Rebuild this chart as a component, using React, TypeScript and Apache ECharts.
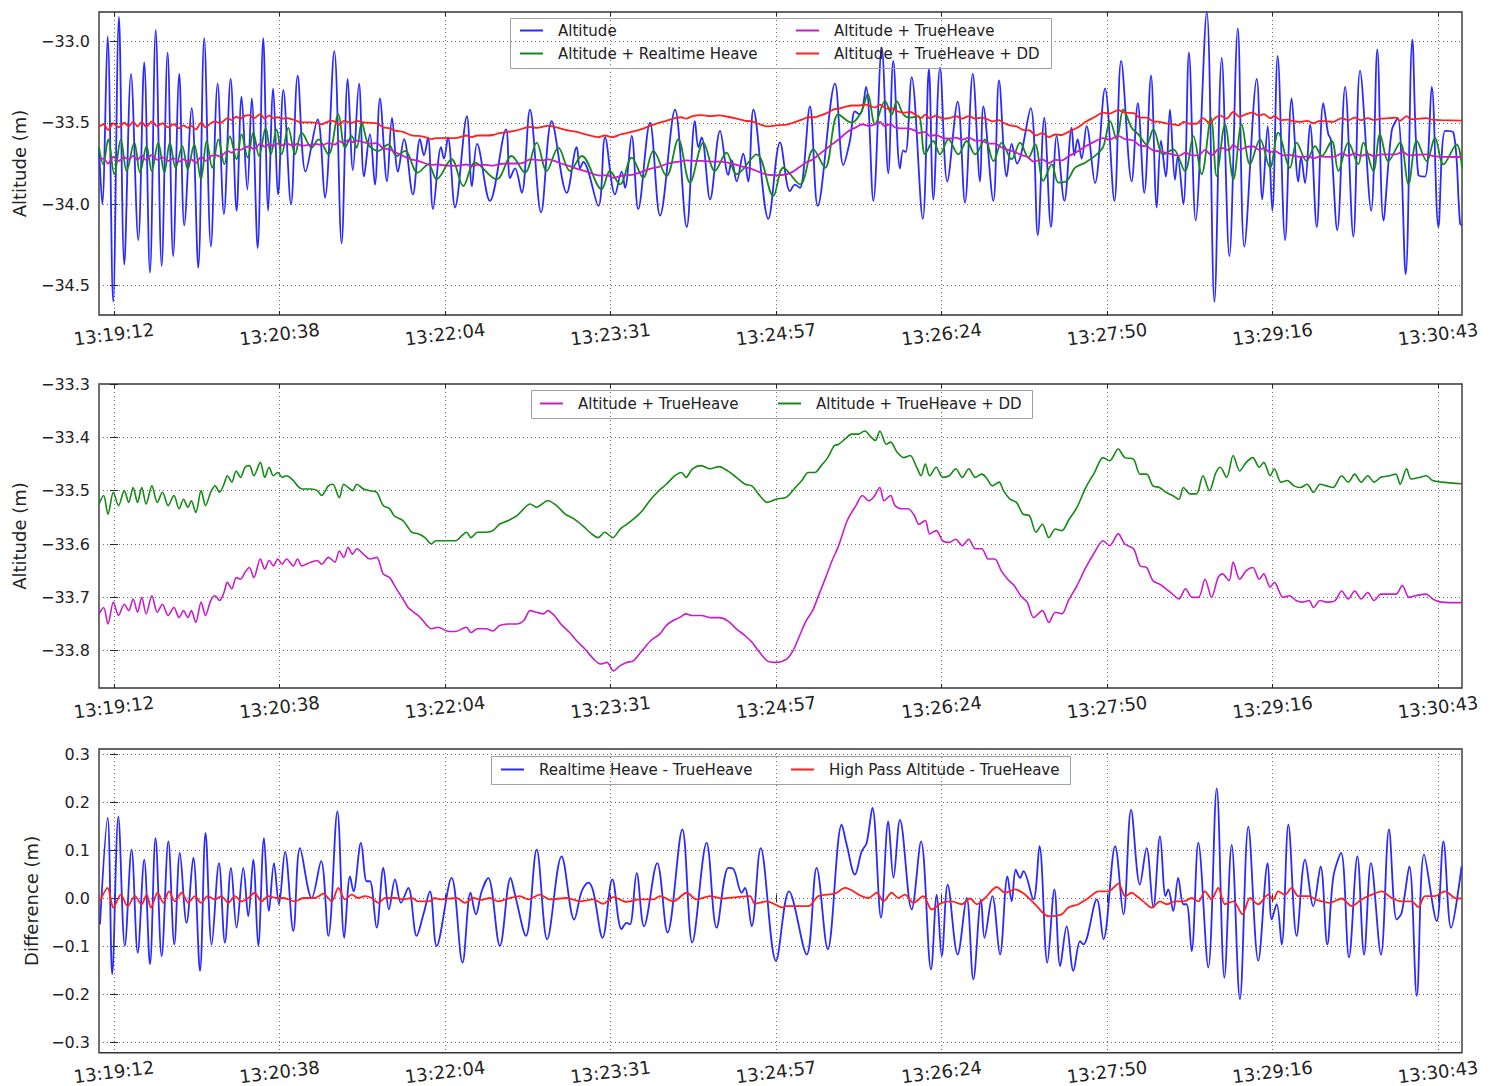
import React, { useEffect, useRef } from 'react';
import * as echarts from 'echarts';

// ---------- axis ticks ----------
const X_TICKS = [0, 86.375, 172.75, 259.125, 345.5, 431.875, 518.25, 604.625, 691];
const X_TICK_LABELS = ['13:19:12', '13:20:38', '13:22:04', '13:23:31', '13:24:57', '13:26:24', '13:27:50', '13:29:16', '13:30:43'];
const X_MIN = -7.8;
const X_MAX = 703.5;

const Y1_TICKS = [-34.5, -34.0, -33.5, -33.0];
const Y1_RANGE = [-34.68, -32.82];
const Y2_TICKS = [-33.8, -33.7, -33.6, -33.5, -33.4, -33.3];
const Y2_RANGE = [-33.87, -33.3];
const Y3_TICKS = [-0.3, -0.2, -0.1, 0.0, 0.1, 0.2, 0.3];
const Y3_RANGE = [-0.322, 0.312];

// ---------- data: [seconds since 13:19:12, value] ----------
const ALTITUDE: [number, number][] = [
  [-7.8,-33.65],[-6.1,-34.0],[-3.3,-32.97],[-0.4,-34.6],[2.6,-32.85],[5.4,-34.37],[8.9,-33.2],[12.7,-34.22],[15.8,-33.13],[18.8,-34.42],
  [21.8,-32.93],[24.9,-34.38],[28.0,-33.07],[30.9,-34.32],[34.1,-33.2],[36.7,-34.13],[40.6,-33.41],[44.0,-34.39],[47.1,-32.98],[50.6,-34.26],
  [54.1,-33.26],[57.4,-34.06],[60.9,-33.23],[64.0,-34.04],[66.6,-33.34],[69.6,-33.91],[71.9,-33.35],[75.0,-34.27],[77.9,-32.98],[80.5,-34.04],
  [83.1,-33.29],[85.7,-33.94],[88.4,-33.3],[92.4,-34.0],[95.9,-33.21],[100.0,-33.8],[106.3,-33.48],[110.1,-33.96],[115.0,-33.06],[118.8,-34.24],
  [122.0,-33.23],[124.7,-33.79],[127.9,-33.26],[130.5,-33.83],[133.6,-33.57],[136.2,-33.88],[138.8,-33.35],[142.5,-33.86],[145.1,-33.47],[148.2,-33.8],
  [151.4,-33.6],[156.0,-33.94],[159.7,-33.6],[161.8,-33.7],[163.9,-33.59],[166.5,-34.03],[170.7,-33.65],[172.2,-33.72],[174.3,-33.59],[178.0,-34.02],
  [184.2,-33.46],[186.8,-33.89],[189.5,-33.63],[196.2,-33.98],[204.6,-33.54],[206.7,-33.84],[209.3,-33.78],[212.8,-33.93],[217.1,-33.42],[222.9,-34.05],
  [228.4,-33.49],[236.3,-33.93],[241.5,-33.65],[243.2,-33.78],[244.9,-33.74],[252.8,-34.01],[256.3,-33.59],[261.5,-33.94],[265.0,-33.8],[266.7,-33.9],
  [270.2,-33.58],[273.6,-34.03],[279.7,-33.5],[285.0,-34.07],[292.8,-33.42],[298.9,-34.14],[303.2,-33.49],[305.0,-33.65],[306.7,-33.59],[311.1,-33.97],
  [316.3,-33.55],[320.6,-33.82],[322.4,-33.73],[325.0,-33.86],[328.4,-33.69],[331.0,-33.86],[333.7,-33.42],[341.5,-34.09],[347.6,-33.62],[352.8,-33.92],
  [355.4,-33.88],[358.0,-33.9],[363.2,-33.4],[367.3,-34.01],[376.3,-33.26],[380.6,-33.76],[384.1,-33.61],[386.7,-33.43],[389.3,-33.45],[392.5,-33.28],
  [396.3,-33.98],[400.7,-33.04],[404.1,-33.81],[406.7,-33.12],[410.2,-33.78],[411.9,-33.67],[413.2,-33.68],[416.3,-33.22],[422.1,-34.09],[425.3,-33.17],
  [427.6,-33.97],[431.1,-33.16],[434.9,-33.86],[440.3,-33.37],[444.1,-33.99],[448.2,-33.2],[452.0,-33.86],[453.7,-33.4],[458.9,-33.98],[461.9,-33.24],
  [465.9,-33.83],[468.5,-33.63],[471.3,-33.75],[478.4,-33.41],[482.1,-34.19],[485.5,-33.47],[489.0,-34.14],[492.0,-33.58],[496.0,-33.98],[499.8,-33.53],
  [501.2,-33.7],[502.9,-33.6],[505.0,-33.72],[507.6,-33.52],[512.0,-33.87],[517.2,-33.29],[522.1,-33.98],[525.6,-33.12],[531.1,-33.86],[534.3,-33.38],
  [537.7,-33.93],[541.2,-33.21],[544.2,-34.02],[546.4,-33.61],[548.9,-33.83],[551.1,-33.42],[553.7,-33.85],[555.1,-33.71],[558.1,-34.0],[561.0,-33.07],
  [564.5,-34.1],[570.3,-32.82],[574.3,-34.6],[578.1,-33.1],[582.1,-34.32],[586.5,-32.92],[589.9,-34.26],[596.4,-33.23],[599.3,-33.97],[602.1,-33.52],
  [604.5,-34.04],[607.3,-33.09],[611.2,-34.22],[614.6,-33.35],[618.1,-33.86],[619.5,-33.71],[621.6,-33.87],[624.2,-33.51],[627.7,-34.14],[631.1,-33.38],
  [633.7,-33.57],[635.0,-33.6],[638.4,-34.16],[642.5,-33.28],[646.8,-34.2],[650.3,-33.18],[656.1,-34.04],[659.3,-33.05],[662.5,-34.1],[666.8,-33.55],
  [670.0,-33.47],[674.1,-34.43],[677.6,-32.99],[680.7,-33.82],[684.2,-33.83],[687.7,-33.28],[691.2,-34.14],[694.7,-33.55],[699.0,-33.56],[702.5,-34.12],
  [703.5,-34.13],
];

const ALT_REALTIME_HEAVE: [number, number][] = [
  [-7.8,-33.653],[-5.6,-33.755],[-3.0,-33.602],[0.2,-33.816],[3.6,-33.602],[6.6,-33.796],[10.6,-33.622],[13.6,-33.806],[17.0,-33.643],[19.7,-33.796],
  [23.1,-33.622],[26.3,-33.806],[29.2,-33.622],[32.2,-33.776],[35.7,-33.643],[38.5,-33.786],[41.9,-33.633],[45.4,-33.847],[48.4,-33.612],[51.3,-33.776],
  [54.5,-33.602],[57.6,-33.755],[60.5,-33.582],[64.0,-33.724],[66.6,-33.571],[69.8,-33.714],[72.7,-33.561],[75.7,-33.704],[79.2,-33.531],[81.9,-33.694],
  [84.9,-33.541],[87.5,-33.694],[91.0,-33.531],[94.5,-33.694],[98.0,-33.561],[103.2,-33.653],[106.7,-33.602],[111.9,-33.694],[117.1,-33.449],[120.6,-33.653],
  [124.1,-33.582],[126.7,-33.653],[129.3,-33.5],[132.8,-33.633],[138.0,-33.673],[143.2,-33.633],[147.5,-33.704],[151.9,-33.673],[158.5,-33.806],[164.1,-33.755],
  [168.4,-33.847],[176.2,-33.724],[182.3,-33.888],[188.4,-33.745],[199.7,-33.847],[207.5,-33.704],[214.5,-33.806],[220.6,-33.622],[225.8,-33.796],[231.9,-33.653],
  [238.0,-33.796],[244.1,-33.704],[254.5,-33.908],[258.8,-33.796],[264.1,-33.878],[270.2,-33.714],[276.2,-33.837],[281.5,-33.673],[288.4,-33.827],[294.5,-33.602],
  [300.6,-33.867],[307.6,-33.622],[313.6,-33.796],[319.7,-33.684],[325.0,-33.816],[335.4,-33.694],[344.1,-33.949],[349.3,-33.776],[358.0,-33.878],[365.0,-33.663],
  [371.1,-33.776],[378.0,-33.449],[385.0,-33.5],[390.2,-33.429],[393.4,-33.322],[397.2,-33.51],[402.4,-33.367],[405.9,-33.449],[408.5,-33.367],[412.0,-33.449],
  [415.5,-33.469],[419.8,-33.459],[423.3,-33.694],[427.6,-33.612],[431.1,-33.694],[435.5,-33.602],[440.7,-33.694],[445.0,-33.612],[449.4,-33.694],[454.6,-33.602],
  [459.0,-33.735],[463.3,-33.622],[468.5,-33.724],[472.9,-33.622],[477.2,-33.714],[480.7,-33.633],[485.0,-33.857],[489.4,-33.755],[492.9,-33.867],[497.2,-33.857],
  [501.6,-33.776],[506.8,-33.745],[512.9,-33.694],[516.4,-33.643],[519.9,-33.49],[523.3,-33.602],[526.8,-33.418],[531.1,-33.531],[534.6,-33.571],[538.9,-33.633],
  [542.4,-33.541],[547.6,-33.694],[552.8,-33.663],[558.9,-33.796],[563.3,-33.582],[567.6,-33.816],[572.5,-33.469],[575.5,-33.827],[579.8,-33.51],[584.2,-33.847],
  [588.5,-33.51],[592.9,-33.755],[598.1,-33.602],[603.3,-33.776],[607.6,-33.561],[613.7,-33.776],[617.2,-33.622],[622.4,-33.735],[626.8,-33.643],[630.3,-33.704],
  [635.5,-33.612],[639.0,-33.796],[644.2,-33.622],[649.4,-33.755],[652.0,-33.622],[657.2,-33.796],[660.7,-33.571],[665.1,-33.735],[671.2,-33.622],[675.5,-33.878],
  [679.9,-33.612],[685.1,-33.735],[689.4,-33.592],[693.8,-33.755],[700.7,-33.633],[703.5,-33.776],
];

const ALT_TRUEHEAVE: [number, number][] = [
  [-7.8,-33.731],[-5.4,-33.719],[-3.1,-33.75],[-0.3,-33.709],[2.4,-33.734],[5.4,-33.713],[7.7,-33.725],[10.0,-33.703],[12.3,-33.728],[14.5,-33.7],
  [16.8,-33.731],[19.8,-33.697],[22.6,-33.728],[25.3,-33.713],[28.3,-33.734],[31.3,-33.719],[34.0,-33.738],[36.3,-33.725],[38.6,-33.738],[40.4,-33.725],
  [42.7,-33.747],[45.5,-33.709],[47.8,-33.734],[50.5,-33.706],[52.8,-33.697],[55.1,-33.706],[57.4,-33.691],[59.2,-33.672],[61.5,-33.684],[63.8,-33.663],
  [66.1,-33.666],[68.4,-33.653],[70.7,-33.644],[73.0,-33.663],[76.4,-33.628],[78.7,-33.647],[81.0,-33.631],[83.2,-33.641],[85.5,-33.628],[87.8,-33.638],
  [90.1,-33.628],[93.6,-33.641],[95.8,-33.628],[98.1,-33.641],[102.7,-33.634],[106.1,-33.631],[108.4,-33.638],[111.9,-33.625],[115.3,-33.634],[117.6,-33.613],
  [119.9,-33.625],[122.2,-33.606],[124.5,-33.619],[126.8,-33.609],[130.2,-33.619],[133.6,-33.628],[137.1,-33.625],[140.5,-33.656],[143.9,-33.663],[147.4,-33.684],
  [150.8,-33.703],[153.5,-33.719],[156.5,-33.728],[159.9,-33.738],[163.4,-33.753],[165.7,-33.759],[169.1,-33.756],[173.7,-33.763],[178.3,-33.764],[181.7,-33.759],
  [184.0,-33.756],[186.3,-33.766],[189.7,-33.759],[194.3,-33.759],[197.7,-33.763],[201.2,-33.753],[205.8,-33.75],[210.3,-33.75],[213.8,-33.744],[217.2,-33.725],
  [220.6,-33.728],[224.1,-33.731],[226.4,-33.725],[229.8,-33.734],[233.2,-33.75],[237.8,-33.766],[241.3,-33.781],[245.8,-33.797],[250.4,-33.816],[253.9,-33.825],
  [257.3,-33.822],[260.7,-33.838],[264.2,-33.828],[267.6,-33.822],[271.0,-33.819],[275.6,-33.8],[280.2,-33.781],[284.8,-33.769],[288.2,-33.753],[291.6,-33.744],
  [295.1,-33.738],[298.5,-33.731],[301.9,-33.734],[306.5,-33.734],[311.1,-33.738],[315.7,-33.738],[320.3,-33.744],[324.8,-33.759],[329.4,-33.772],[332.9,-33.784],
  [336.3,-33.8],[340.9,-33.819],[345.5,-33.822],[351.0,-33.816],[354.4,-33.8],[357.8,-33.772],[361.2,-33.744],[364.6,-33.725],[368.0,-33.694],[371.4,-33.663],
  [374.8,-33.631],[378.2,-33.603],[382.7,-33.556],[387.2,-33.528],[390.6,-33.509],[394.0,-33.519],[396.3,-33.513],[399.7,-33.494],[401.9,-33.519],[405.3,-33.509],
  [407.6,-33.528],[411.0,-33.534],[414.4,-33.534],[417.8,-33.547],[420.0,-33.563],[423.4,-33.556],[425.7,-33.581],[429.1,-33.575],[432.5,-33.594],[435.9,-33.597],
  [439.3,-33.591],[442.7,-33.603],[446.1,-33.591],[449.5,-33.609],[452.9,-33.609],[456.3,-33.628],[459.7,-33.628],[463.0,-33.65],[466.4,-33.666],[469.8,-33.678],
  [473.2,-33.697],[476.6,-33.709],[480.0,-33.738],[484.5,-33.725],[487.9,-33.747],[491.3,-33.728],[494.7,-33.731],[498.1,-33.706],[502.6,-33.678],[507.2,-33.644],
  [511.7,-33.616],[516.2,-33.594],[519.6,-33.603],[524.1,-33.581],[527.5,-33.6],[532.1,-33.609],[535.5,-33.641],[538.9,-33.644],[542.2,-33.669],[545.6,-33.675],
  [549.0,-33.684],[552.4,-33.694],[555.8,-33.703],[559.2,-33.684],[562.6,-33.7],[566.0,-33.7],[569.4,-33.666],[572.8,-33.7],[576.2,-33.663],[578.5,-33.656],
  [581.9,-33.669],[584.1,-33.634],[587.5,-33.666],[590.9,-33.65],[594.3,-33.644],[597.7,-33.666],[600.0,-33.656],[603.4,-33.681],[605.6,-33.672],[610.1,-33.7],
  [613.5,-33.697],[616.9,-33.706],[620.3,-33.709],[623.7,-33.706],[626.0,-33.719],[629.4,-33.706],[632.8,-33.709],[637.3,-33.706],[640.7,-33.688],[644.1,-33.703],
  [647.5,-33.688],[650.9,-33.703],[654.3,-33.691],[657.7,-33.706],[661.1,-33.694],[665.6,-33.694],[669.0,-33.694],[672.4,-33.678],[675.8,-33.7],[679.2,-33.697],
  [684.8,-33.694],[688.2,-33.703],[692.7,-33.709],[703.5,-33.71],
];

const ALT_TRUEHEAVE_DD: [number, number][] = [
  [-7.8,-33.525],[-5.4,-33.509],[-3.1,-33.544],[-0.3,-33.503],[2.4,-33.528],[5.4,-33.5],[7.7,-33.522],[10.0,-33.494],[12.3,-33.522],[14.5,-33.494],
  [16.8,-33.525],[19.8,-33.491],[22.6,-33.522],[25.3,-33.503],[28.3,-33.528],[31.3,-33.509],[34.0,-33.534],[36.3,-33.516],[38.6,-33.531],[40.4,-33.519],
  [42.7,-33.541],[45.5,-33.5],[47.8,-33.528],[50.5,-33.503],[52.8,-33.491],[55.1,-33.503],[57.4,-33.488],[59.2,-33.472],[61.5,-33.484],[63.8,-33.463],
  [66.1,-33.475],[68.4,-33.456],[70.7,-33.453],[73.0,-33.472],[76.4,-33.447],[78.7,-33.475],[81.0,-33.456],[83.2,-33.472],[85.5,-33.466],[87.8,-33.475],
  [90.1,-33.472],[93.6,-33.481],[95.8,-33.491],[98.1,-33.497],[102.7,-33.497],[106.1,-33.5],[108.4,-33.509],[111.9,-33.491],[114.2,-33.488],[117.6,-33.513],
  [119.9,-33.488],[122.2,-33.494],[124.5,-33.5],[126.8,-33.488],[130.2,-33.497],[133.6,-33.5],[137.1,-33.503],[140.5,-33.528],[143.9,-33.534],[146.2,-33.547],
  [150.8,-33.556],[153.5,-33.569],[155.4,-33.578],[158.8,-33.581],[162.3,-33.588],[165.7,-33.6],[168.0,-33.594],[173.7,-33.594],[178.3,-33.594],[181.7,-33.584],
  [184.0,-33.578],[186.3,-33.588],[189.7,-33.578],[194.3,-33.578],[197.7,-33.575],[201.2,-33.563],[205.8,-33.556],[210.3,-33.547],[213.8,-33.534],[217.2,-33.525],
  [220.6,-33.531],[226.4,-33.519],[231.0,-33.528],[235.5,-33.544],[240.1,-33.553],[244.7,-33.566],[249.3,-33.581],[252.7,-33.588],[256.1,-33.578],[260.3,-33.588],
  [264.2,-33.572],[267.6,-33.563],[272.2,-33.55],[275.6,-33.538],[280.2,-33.516],[283.6,-33.503],[288.2,-33.488],[292.8,-33.472],[296.2,-33.466],[298.5,-33.475],
  [301.9,-33.459],[306.5,-33.453],[311.1,-33.459],[315.7,-33.455],[320.3,-33.463],[324.8,-33.475],[329.4,-33.488],[332.9,-33.491],[336.3,-33.506],[340.9,-33.522],
  [345.5,-33.516],[351.0,-33.512],[355.6,-33.494],[359.0,-33.481],[362.3,-33.466],[365.7,-33.466],[369.1,-33.453],[372.5,-33.438],[375.9,-33.416],[378.2,-33.413],
  [381.6,-33.403],[385.0,-33.394],[388.4,-33.394],[391.8,-33.388],[395.2,-33.4],[397.4,-33.406],[399.7,-33.388],[403.1,-33.413],[405.3,-33.409],[408.7,-33.428],
  [412.1,-33.438],[415.5,-33.434],[418.9,-33.456],[421.2,-33.472],[423.4,-33.45],[425.7,-33.472],[429.1,-33.456],[432.5,-33.475],[435.9,-33.472],[439.3,-33.459],
  [442.7,-33.475],[446.1,-33.459],[449.5,-33.475],[452.9,-33.469],[455.1,-33.475],[458.5,-33.491],[461.9,-33.484],[464.2,-33.5],[467.6,-33.516],[471.0,-33.522],
  [474.4,-33.544],[477.8,-33.547],[481.2,-33.578],[484.5,-33.563],[487.9,-33.588],[491.3,-33.572],[494.7,-33.575],[498.1,-33.556],[502.6,-33.531],[507.2,-33.494],
  [511.7,-33.466],[516.2,-33.438],[519.6,-33.444],[524.1,-33.422],[527.5,-33.438],[532.1,-33.441],[535.5,-33.469],[538.9,-33.469],[542.2,-33.491],[545.6,-33.494],
  [549.0,-33.503],[552.4,-33.509],[555.8,-33.516],[558.1,-33.494],[561.5,-33.506],[564.9,-33.506],[568.3,-33.472],[571.7,-33.5],[575.1,-33.466],[577.3,-33.456],
  [580.7,-33.475],[584.1,-33.434],[587.5,-33.463],[590.9,-33.447],[594.3,-33.438],[597.7,-33.456],[600.0,-33.447],[603.4,-33.472],[605.6,-33.459],[609.0,-33.484],
  [612.4,-33.481],[615.8,-33.491],[619.2,-33.494],[622.6,-33.488],[626.0,-33.503],[629.4,-33.488],[632.8,-33.491],[636.2,-33.494],[640.7,-33.472],[644.1,-33.484],
  [647.5,-33.469],[650.9,-33.484],[654.3,-33.472],[657.7,-33.484],[661.1,-33.475],[665.6,-33.472],[669.0,-33.469],[671.2,-33.488],[674.6,-33.459],[676.9,-33.478],
  [681.4,-33.475],[684.8,-33.472],[688.2,-33.481],[692.7,-33.484],[703.5,-33.487],
];

const REALTIME_MINUS_TRUE: [number, number][] = [
  [-7.3,-0.054],[-3.3,0.168],[-0.9,-0.158],[2.3,0.171],[5.7,-0.099],[9.2,0.102],[12.4,-0.113],[15.8,0.081],[18.8,-0.137],[21.7,0.126],
  [24.9,-0.12],[28.4,0.119],[31.5,-0.096],[34.4,0.095],[37.9,-0.051],[41.4,0.085],[44.9,-0.151],[47.8,0.137],[51.0,-0.096],[54.8,0.074],
  [57.9,-0.092],[61.1,0.064],[64.0,-0.061],[67.5,0.064],[70.1,-0.037],[72.7,0.081],[75.3,-0.099],[78.3,0.126],[80.9,-0.026],[83.5,0.074],
  [86.1,-0.012],[89.3,0.098],[93.6,-0.068],[97.1,0.105],[103.2,0.001],[108.1,0.078],[111.9,-0.078],[116.6,0.182],[120.2,-0.082],[123.2,0.046],
  [125.0,0.015],[128.9,0.116],[131.9,0.036],[133.6,0.036],[137.1,-0.061],[140.6,0.064],[143.5,-0.023],[146.7,0.04],[149.8,-0.009],[153.6,0.022],
  [158.0,-0.078],[161.5,-0.033],[164.9,0.015],[168.4,-0.099],[176.2,0.043],[181.9,-0.134],[186.1,0.012],[188.9,-0.033],[191.9,0.015],[195.3,0.043],
  [201.4,-0.099],[207.0,0.043],[209.3,0.008],[215.0,-0.078],[220.6,0.102],[226.1,-0.085],[233.6,0.088],[240.2,-0.044],[244.1,0.015],[247.5,0.033],
  [250.1,0.015],[255.0,-0.082],[260.1,0.04],[264.9,-0.064],[267.5,-0.051],[269.3,-0.054],[272.8,0.053],[276.6,-0.058],[283.5,0.074],[288.9,-0.071],
  [296.6,0.144],[301.8,-0.092],[309.3,0.116],[314.5,-0.061],[320.6,0.064],[323.2,0.062],[327.6,0.012],[329.3,0.022],[332.8,-0.058],[337.5,0.105],
  [345.5,-0.13],[352.3,0.015],[361.5,-0.117],[366.7,0.064],[372.5,-0.106],[379.8,0.154],[382.4,0.112],[386.7,0.05],[390.2,0.098],[392.8,0.116],
  [395.8,0.189],[400.3,-0.04],[404.1,0.161],[406.8,0.043],[410.2,0.164],[416.3,-0.023],[421.2,0.119],[426.4,-0.148],[429.4,0.008],[432.0,-0.12],
  [435.1,0.029],[440.3,-0.117],[445.0,0.001],[448.5,-0.169],[452.5,-0.002],[454.3,-0.082],[458.4,0.005],[462.4,-0.117],[466.3,0.046],[468.5,-0.006],
  [470.6,0.06],[472.9,0.043],[474.6,0.057],[479.8,-0.002],[483.0,0.109],[487.1,-0.134],[490.8,0.019],[493.8,-0.141],[497.2,-0.058],[500.7,-0.151],
  [504.2,-0.089],[505.9,-0.096],[512.9,-0.002],[516.4,-0.085],[522.5,0.109],[526.8,-0.033],[530.8,0.185],[535.4,0.029],[538.9,0.105],[542.4,-0.019],
  [545.9,0.13],[548.8,0.005],[550.2,0.019],[552.8,-0.026],[555.4,0.043],[558.1,-0.012],[559.8,-0.012],[562.4,-0.11],[565.9,0.116],[571.1,-0.144],
  [575.5,0.23],[579.5,-0.165],[583.3,0.112],[587.6,-0.21],[592.0,0.15],[597.2,-0.13],[602.1,0.074],[604.2,-0.044],[606.8,-0.012],[609.4,-0.096],
  [612.9,0.154],[617.2,-0.078],[621.6,0.081],[625.9,-0.016],[629.7,0.067],[633.2,-0.096],[636.4,0.046],[640.4,0.095],[644.5,-0.123],[648.9,0.088],
  [652.4,-0.117],[656.0,0.074],[661.2,-0.117],[665.4,0.144],[669.4,-0.044],[672.0,-0.03],[676.0,0.067],[679.9,-0.203],[683.7,0.092],[690.3,-0.047],
  [693.8,0.119],[697.8,-0.061],[703.3,0.067],
];

const HIGHPASS_MINUS_TRUE: [number, number][] = [
  [-7.3,-0.006],[-3.3,0.022],[-0.3,-0.019],[3.6,0.008],[7.1,-0.016],[11.0,0.005],[14.4,-0.012],[17.1,0.008],[19.3,-0.019],[22.8,0.012],
  [25.8,-0.009],[28.7,0.015],[31.8,-0.006],[35.3,0.012],[38.8,-0.009],[42.3,0.005],[45.4,-0.009],[48.9,0.005],[52.7,-0.002],[55.9,0.005],
  [59.7,-0.009],[63.2,0.005],[66.6,-0.006],[70.1,0.001],[73.3,0.012],[77.1,-0.006],[80.6,0.005],[84.9,0.001],[88.4,0.001],[94.5,-0.006],
  [98.8,0.001],[104.9,0.001],[109.3,0.01],[113.6,-0.006],[117.1,0.022],[120.6,-0.002],[124.1,0.008],[127.5,0.001],[131.0,0.005],[134.5,0.001],
  [138.0,-0.009],[141.5,0.001],[146.7,0.001],[151.0,-0.002],[155.4,0.001],[158.9,-0.006],[164.1,-0.006],[167.6,0.001],[170.1,-0.002],[178.8,0.001],
  [183.2,-0.009],[187.5,0.001],[191.9,-0.003],[196.2,0.001],[200.5,-0.006],[206.6,0.001],[211.9,0.005],[216.2,-0.002],[222.3,0.008],[227.5,-0.002],
  [236.2,0.001],[243.2,-0.006],[250.1,-0.002],[255.4,-0.011],[260.6,0.003],[267.5,-0.007],[274.5,-0.002],[281.5,-0.002],[284.9,0.005],[291.9,-0.006],
  [298.9,0.012],[304.1,-0.002],[311.0,0.005],[318.0,0.0],[325.0,0.003],[331.9,0.005],[334.5,-0.011],[340.6,-0.006],[349.3,-0.019],[350.2,-0.016],
  [362.4,-0.016],[367.6,0.005],[376.3,0.01],[381.5,0.022],[390.2,0.005],[393.7,0.001],[398.1,0.012],[401.5,-0.006],[405.9,0.012],[409.4,0.001],
  [412.8,0.008],[417.2,-0.009],[422.4,0.005],[426.8,-0.023],[432.0,-0.009],[437.2,-0.006],[442.4,-0.012],[446.8,0.0],[450.3,-0.012],[454.6,0.001],
  [460.7,0.024],[465.0,0.012],[470.3,0.019],[475.5,0.008],[480.7,-0.012],[487.7,-0.037],[494.6,-0.033],[498.1,-0.019],[503.3,-0.012],[508.5,0.001],
  [513.8,0.015],[519.0,0.015],[524.2,0.031],[527.7,0.005],[531.2,0.012],[532.8,0.008],[537.2,-0.006],[541.5,-0.019],[545.9,-0.006],[549.4,-0.012],
  [553.7,-0.006],[558.1,-0.006],[562.4,0.001],[565.9,-0.006],[569.4,0.015],[572.8,-0.002],[576.3,0.022],[579.8,-0.012],[584.2,-0.006],[588.9,-0.033],
  [592.9,0.001],[597.2,-0.012],[602.4,0.008],[605.0,-0.002],[607.6,0.015],[611.1,0.008],[614.6,0.022],[618.1,0.005],[623.3,0.005],[628.5,-0.004],
  [634.6,-0.009],[640.7,0.0],[645.9,-0.016],[651.1,-0.002],[656.4,0.008],[661.6,0.015],[666.8,0.001],[672.0,-0.006],[677.2,-0.006],[680.7,-0.018],
  [684.2,0.005],[689.4,0.005],[694.6,0.015],[699.9,0.001],[703.3,0.0],
];

// ---------- styling ----------
const FONT = "'DejaVu Sans', 'Liberation Sans', sans-serif";
const TEXT = '#222';
const C_BLUE = '#2a2aff';
const C_GREEN = '#138a13';
const C_MAGENTA = '#c81ec8';
const C_RED = '#ff2020';

const GRIDS = [
  { left: 99, top: 12, width: 1363, height: 303 },
  { left: 99, top: 384, width: 1363, height: 304 },
  { left: 99, top: 749, width: 1363, height: 305 },
];

function fmtTime(v: number): string {
  let best = -1;
  let bd = 1e9;
  X_TICKS.forEach((t, i) => {
    const d = Math.abs(t - v);
    if (d < bd) { bd = d; best = i; }
  });
  return bd < 0.5 ? X_TICK_LABELS[best] : '';
}

function fmtNum(v: number): string {
  const s = Math.abs(v).toFixed(1);
  return v < -1e-9 ? '\u2212' + s : s;
}

const tickStyle = { show: true, inside: true, length: 4, lineStyle: { color: '#222', width: 1 } };
const splitStyle = { show: true, lineStyle: { color: '#6a6a6a', width: 1, type: [1, 3] as any } };

function makeXAxes(gi: number) {
  return [
    {
      type: 'value', gridIndex: gi, min: X_MIN, max: X_MAX, position: 'bottom',
      axisLine: { show: false },
      axisTick: { ...tickStyle, customValues: X_TICKS },
      axisLabel: {
        show: true, customValues: X_TICKS, formatter: fmtTime, rotate: 7,
        align: 'center', verticalAlign: 'middle', margin: 19,
        fontSize: 18, fontFamily: FONT, color: TEXT,
      },
      splitLine: splitStyle,
    },
    {
      type: 'value', gridIndex: gi, min: X_MIN, max: X_MAX, position: 'top',
      axisLine: { show: false },
      axisTick: { ...tickStyle, customValues: X_TICKS },
      axisLabel: { show: false },
      splitLine: { show: false },
    },
  ];
}

function makeYAxes(gi: number, range: number[], ticks: number[], name: string, nameGap: number) {
  return [
    {
      type: 'value', gridIndex: gi, min: range[0], max: range[1], position: 'left',
      name, nameLocation: 'middle', nameRotate: 90, nameGap,
      nameTextStyle: { fontSize: 18, fontFamily: FONT, color: TEXT },
      axisLine: { show: false },
      axisTick: { ...tickStyle, customValues: ticks },
      axisLabel: { show: true, customValues: ticks, formatter: fmtNum, margin: 9, fontSize: 16, fontFamily: FONT, color: TEXT },
      splitLine: splitStyle,
    },
    {
      type: 'value', gridIndex: gi, min: range[0], max: range[1], position: 'right',
      axisLine: { show: false },
      axisTick: { ...tickStyle, customValues: ticks },
      axisLabel: { show: false },
      splitLine: { show: false },
    },
  ];
}

function line(name: string, data: [number, number][], color: string, gi: number, smooth: number, width: number) {
  return {
    type: 'line', name, data, xAxisIndex: gi * 2, yAxisIndex: gi * 2,
    showSymbol: false, symbol: 'none', smooth,
    lineStyle: { color, width }, itemStyle: { color },
    emphasis: { disabled: true }, silent: true,
  };
}

function legendItem(name: string, color: string, left: number, top: number) {
  return {
    show: true, left, top, padding: 0, selectedMode: false,
    icon: 'rect', itemWidth: 23, itemHeight: 2,
    data: [{ name, itemStyle: { color } }],
    textStyle: { fontSize: 15, fontFamily: FONT, color: TEXT, padding: [0, 0, 0, 10] },
  };
}

function legendBox(x: number, y: number, w: number, h: number) {
  return {
    type: 'rect', silent: true, z: 100,
    shape: { x: x + 0.5, y: y + 0.5, width: w, height: h },
    style: { fill: 'none', stroke: '#a0a0a0', lineWidth: 1 },
  };
}

export default function App() {
  const ref = useRef<HTMLDivElement>(null);
  useEffect(() => {
    if (!ref.current) return;
    const chart = echarts.init(ref.current, undefined, { renderer: 'svg' });
    const option: any = {
      animation: false,
      backgroundColor: '#fff',
      grid: GRIDS.map((g) => ({ ...g, show: true, borderColor: '#333', borderWidth: 1.4, backgroundColor: 'transparent', containLabel: false })),
      xAxis: [...makeXAxes(0), ...makeXAxes(1), ...makeXAxes(2)],
      yAxis: [
        ...makeYAxes(0, Y1_RANGE, Y1_TICKS, 'Altitude (m)', 71),
        ...makeYAxes(1, Y2_RANGE, Y2_TICKS, 'Altitude (m)', 71),
        ...makeYAxes(2, Y3_RANGE, Y3_TICKS, 'Difference (m)', 58),
      ],
      legend: [
        legendItem('Altitude', C_BLUE, 520, 23),
        legendItem('Altitude + Realtime Heave', C_GREEN, 520, 46),
        legendItem('Altitude + TrueHeave', C_MAGENTA, 796, 23),
        legendItem('Altitude + TrueHeave + DD', C_RED, 796, 46),
        legendItem('Altitude + TrueHeave', C_MAGENTA, 540, 396),
        legendItem('Altitude + TrueHeave + DD', C_GREEN, 778, 396),
        legendItem('Realtime Heave - TrueHeave', C_BLUE, 501, 762),
        legendItem('High Pass Altitude - TrueHeave', C_RED, 791, 762),
      ],
      graphic: [
        legendBox(510, 18, 541, 50),
        legendBox(531, 390, 501, 28),
        legendBox(491, 756, 579, 28),
      ],
      series: [
        line('Altitude', ALTITUDE, C_BLUE, 0, 0.35, 1.8),
        line('Altitude + Realtime Heave', ALT_REALTIME_HEAVE, C_GREEN, 0, 0.35, 1.8),
        line('Altitude + TrueHeave', ALT_TRUEHEAVE, C_MAGENTA, 0, 0.3, 1.8),
        line('Altitude + TrueHeave + DD', ALT_TRUEHEAVE_DD, C_RED, 0, 0.3, 1.8),
        line('Altitude + TrueHeave', ALT_TRUEHEAVE, C_MAGENTA, 1, 0.3, 1.6),
        line('Altitude + TrueHeave + DD', ALT_TRUEHEAVE_DD, C_GREEN, 1, 0.3, 1.6),
        line('Realtime Heave - TrueHeave', REALTIME_MINUS_TRUE, C_BLUE, 2, 0.35, 1.8),
        line('High Pass Altitude - TrueHeave', HIGHPASS_MINUS_TRUE, C_RED, 2, 0.3, 1.8),
      ],
    };
    chart.setOption(option);
    return () => chart.dispose();
  }, []);
  return (
    <div
      ref={ref}
      style={{ position: 'fixed', left: 0, top: 0, width: 1490, height: 1086, background: '#fff' }}
    />
  );
}
